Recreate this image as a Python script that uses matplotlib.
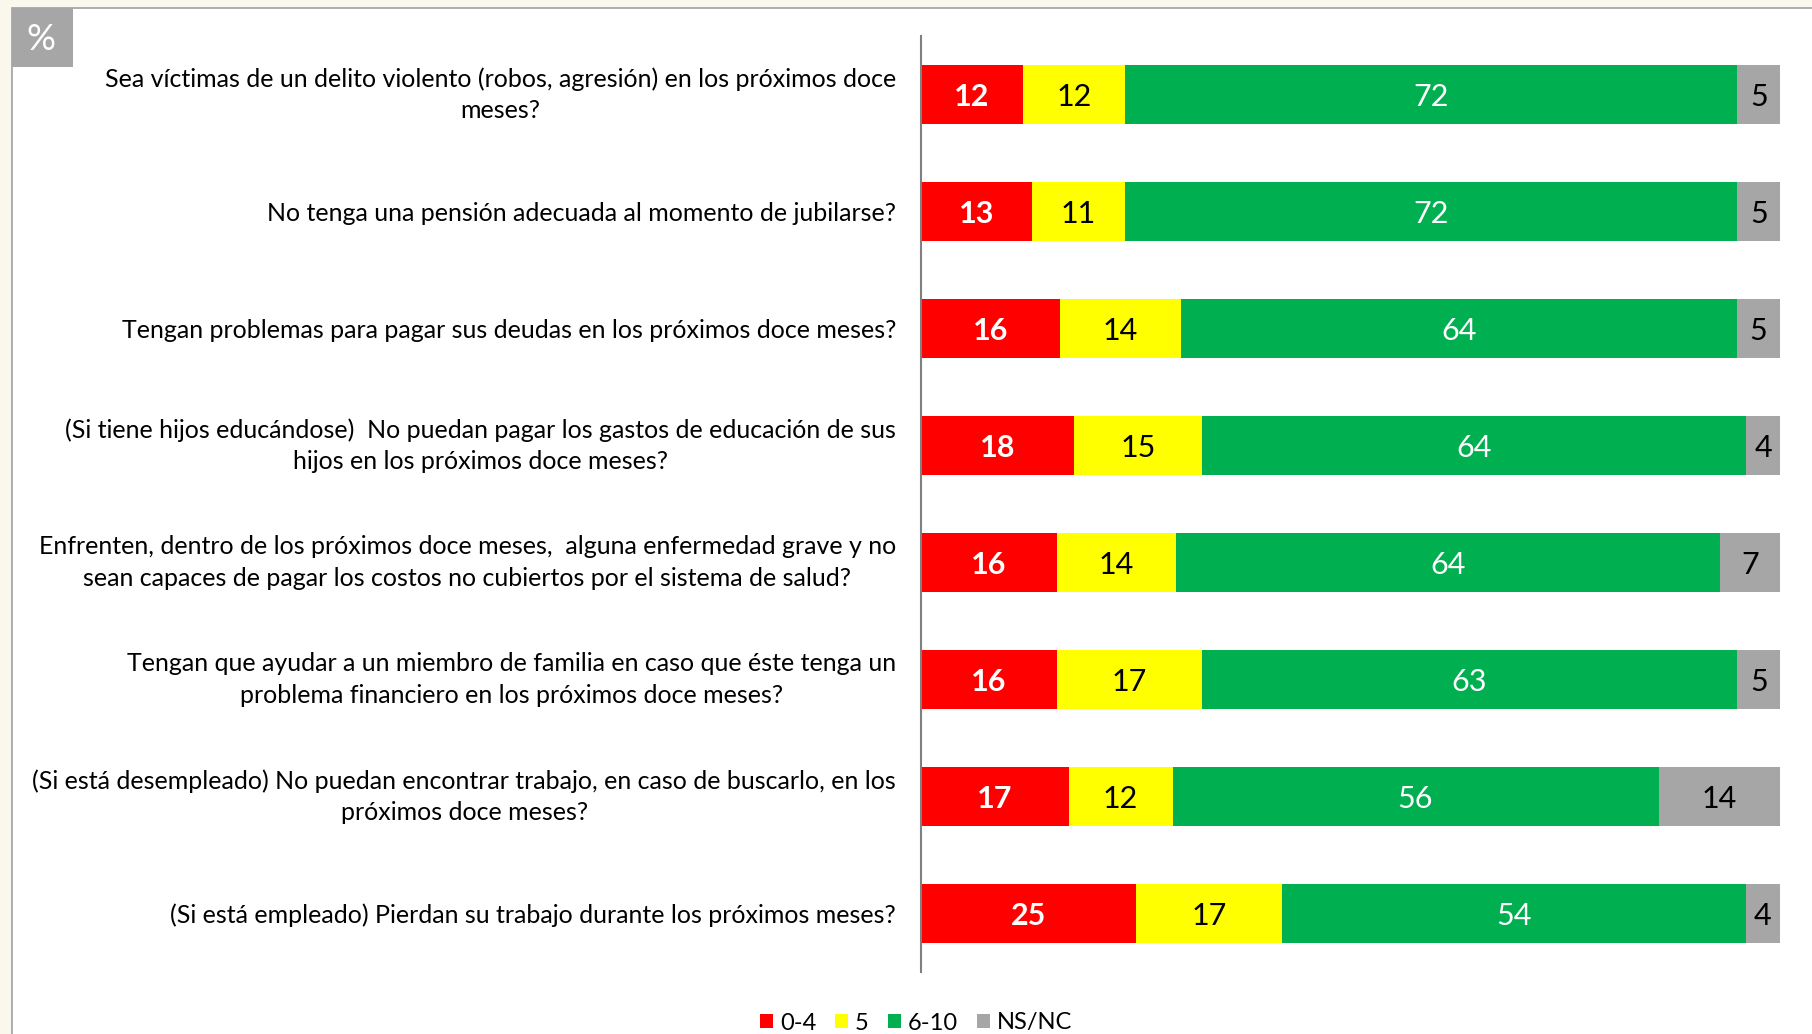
"""Stacked 100% bars: perceived risk items, scores 0-4 / 5 / 6-10 / NS/NC."""
import numpy as np
import matplotlib.pyplot as plt
from matplotlib.patches import Patch, Rectangle

plt.rcParams['font.family'] = ['Lato', 'DejaVu Sans']

QUESTIONS = [
    "Sea víctimas de un delito violento (robos, agresión) en los próximos doce\nmeses?",
    "No tenga una pensión adecuada al momento de jubilarse?",
    "Tengan problemas para pagar sus deudas en los próximos doce meses?",
    "(Si tiene hijos educándose)  No puedan pagar los gastos de educación de sus\nhijos en los próximos doce meses?",
    "Enfrenten, dentro de los próximos doce meses,  alguna enfermedad grave y no\nsean capaces de pagar los costos no cubiertos por el sistema de salud?",
    "Tengan que ayudar a un miembro de familia en caso que éste tenga un\nproblema financiero en los próximos doce meses?",
    "(Si está desempleado) No puedan encontrar trabajo, en caso de buscarlo, en los\npróximos doce meses?",
    "(Si está empleado) Pierdan su trabajo durante los próximos meses?",
]
LOW = [12, 13, 16, 18, 16, 16, 17, 25]      # 0-4
MID = [12, 11, 14, 15, 14, 17, 12, 17]      # 5
HIGH = [72, 72, 64, 64, 64, 63, 56, 54]     # 6-10
NSNC = [5, 5, 5, 4, 7, 5, 14, 4]            # NS/NC

SERIES = [
    ("0-4", LOW, "#FF0000", "white", "bold"),
    ("5", MID, "#FFFF00", "black", "normal"),
    ("6-10", HIGH, "#00B050", "white", "normal"),
    ("NS/NC", NSNC, "#A6A6A6", "black", "normal"),
]

W, H, DPI = 1812, 1034, 100
fig = plt.figure(figsize=(W / DPI, H / DPI), dpi=DPI, facecolor="#FAF7EC")

# white slide panel with thin grey edge, plus the grey "%" badge
fig.add_artist(Rectangle((12 / W, -0.01), 1, 1.01 - 8 / H, transform=fig.transFigure,
                         facecolor="white", edgecolor="#A0A0A0", lw=1.2, zorder=-2))
fig.add_artist(Rectangle((12 / W, 1 - 67 / H), 61 / W, 59 / H, transform=fig.transFigure,
                         facecolor="#A6A6A6", edgecolor="none", zorder=-1))
fig.text(41 / W, 1 - 40 / H, "%", color="white", fontsize=26, ha="center", va="center")

ax = fig.add_axes([921 / W, 1 - 972 / H, 859 / W, 936 / H])
ax.set_facecolor("none")

totals = np.array(LOW) + np.array(MID) + np.array(HIGH) + np.array(NSNC)
y = np.arange(len(QUESTIONS))
left = np.zeros(len(QUESTIONS))
for name, vals, color, tcolor, weight in SERIES:
    widths = np.array(vals) / totals * 100
    ax.barh(y, widths, left=left, height=0.5, color=color, label=name)
    for yi, l, w, v in zip(y, left, widths, vals):
        ax.text(l + w / 2, yi, str(v), ha="center", va="center_baseline",
                color=tcolor, fontsize=22, fontweight=weight)
    left += widths

ax.set_xlim(0, 100)
ax.set_ylim(len(QUESTIONS) - 0.5, -0.5)
ax.set_xticks([])
ax.set_yticks(y)
ax.set_yticklabels(QUESTIONS, fontsize=18)
for lab in ax.get_yticklabels():
    lab.set_multialignment("center")
    lab.set_linespacing(1.45)
    if "\n" in lab.get_text():
        lab.set_verticalalignment("center")
ax.tick_params(axis="y", length=0, pad=18)
for s in ["top", "right", "bottom"]:
    ax.spines[s].set_visible(False)
ax.spines["left"].set_color("#808080")
ax.spines["left"].set_linewidth(1.5)

handles = [Patch(facecolor=c, label=n) for n, _, c, _, _ in SERIES]
fig.legend(handles=handles, loc="center", bbox_to_anchor=(916 / W, 1 - 1023 / H),
           ncol=4, frameon=False, fontsize=17, handlelength=0.55, handleheight=0.55,
           handletextpad=0.3, columnspacing=0.8)

fig.savefig("out.png", dpi=DPI, facecolor=fig.get_facecolor())
